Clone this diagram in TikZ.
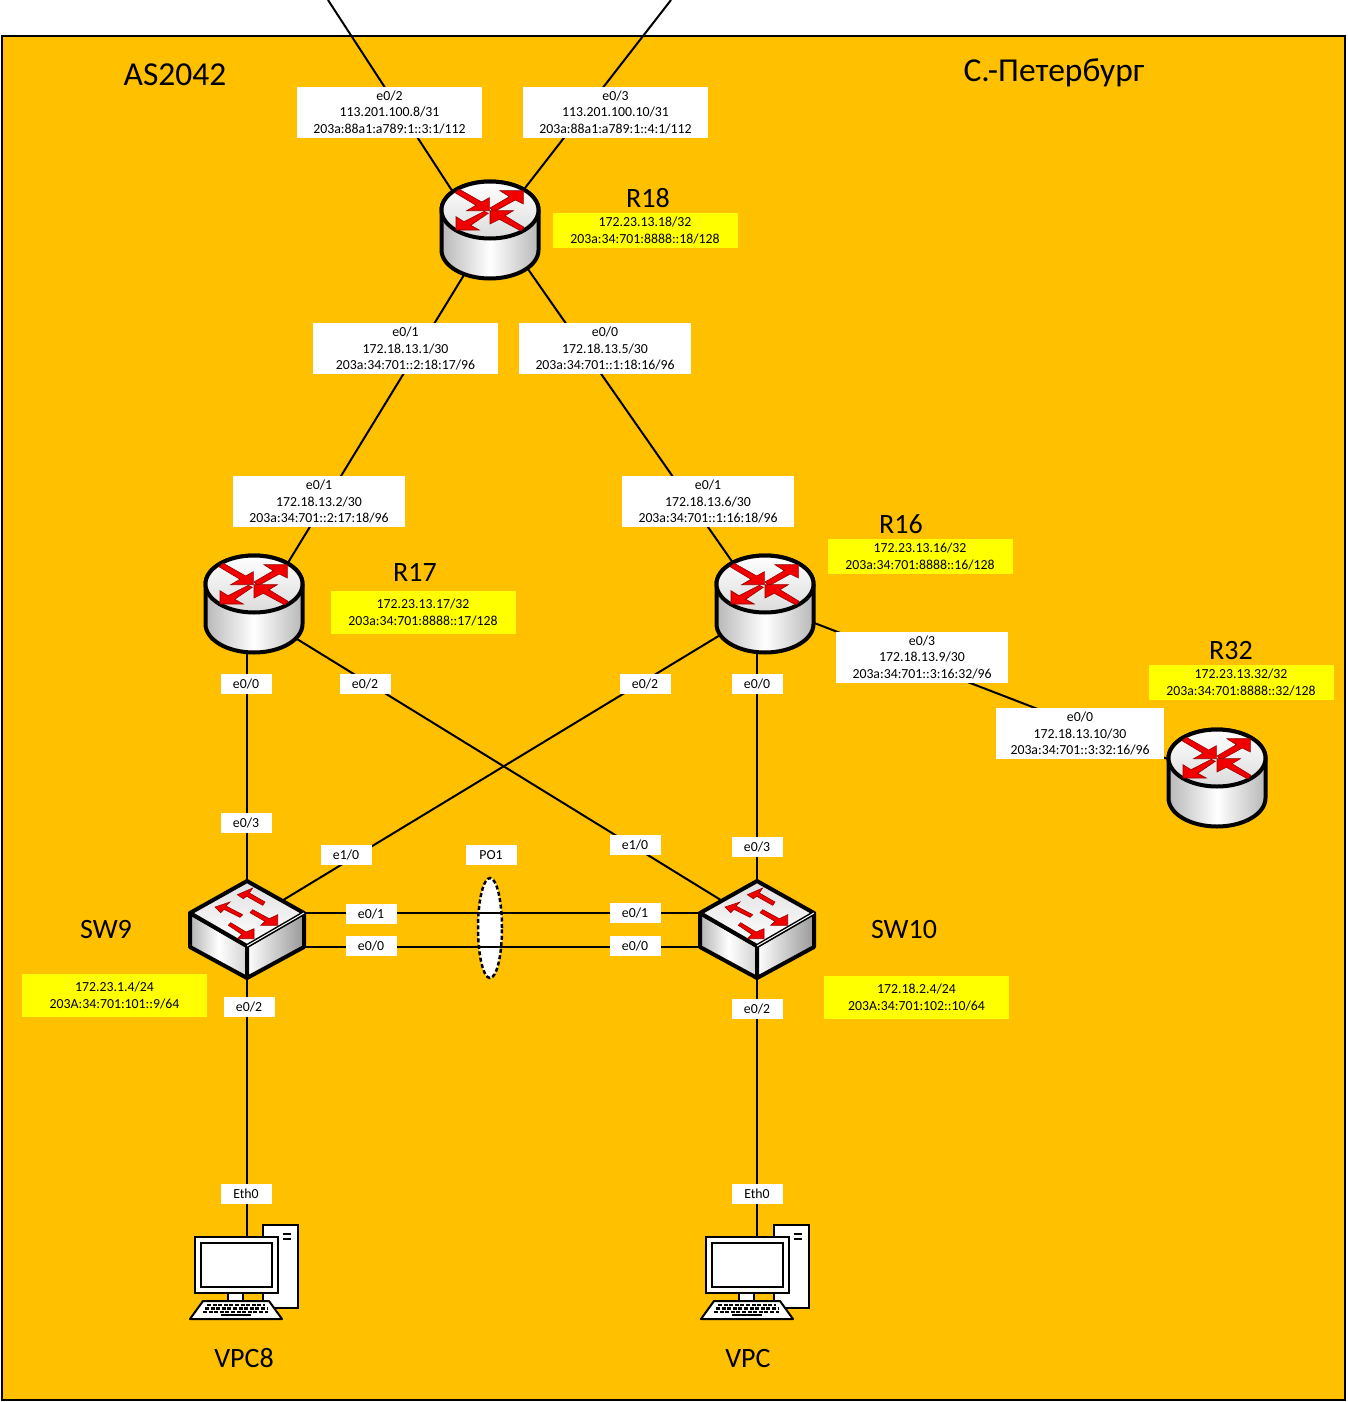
\documentclass[tikz,border=0pt]{standalone}
\usepackage{fontspec}
\setmainfont{Carlito}
\usetikzlibrary{shapes.geometric}

\definecolor{areaorange}{HTML}{FFC000}
\definecolor{flowred}{HTML}{F00000}
\definecolor{loopyellow}{HTML}{FFFF00}

\tikzset{
    conn/.style={line width=2pt, black},
    routerspot/.style={circle, minimum size=100pt, inner sep=0pt, outer sep=0pt},
    switchspot/.style={circle, minimum size=90pt, inner sep=0pt, outer sep=0pt},
    pcspot/.style={minimum width=108pt, minimum height=94pt, inner sep=0pt, outer sep=0pt},
    addrbox/.style={fill=white, align=center, inner sep=0pt, minimum height=51pt,
        font=\fontsize{13.8}{16.5}\selectfont},
    portbox/.style={fill=white, inner sep=0pt, minimum width=51pt, minimum height=20pt,
        font=\fontsize{13.8}{14}\selectfont},
    loopbox/.style={fill=loopyellow, align=center, inner sep=0pt, minimum width=185pt,
        font=\fontsize{13.8}{16.5}\selectfont},
    title/.style={inner sep=0pt, font=\fontsize{28}{32}\selectfont},
    flowarrow/.style={fill=flowred, draw=black!40!red, line width=0.6pt, line join=miter},
    routericon/.pic={
        \draw[line width=4pt, left color=black!28, right color=black!28, middle color=white]
            (-48.5,-20) -- (-48.5,20) arc[start angle=180, end angle=360, x radius=48.5pt, y radius=28.5pt]
            -- (48.5,-20) arc[start angle=0, end angle=180, x radius=48.5pt, y radius=28.5pt] -- cycle;
        \draw[line width=4pt, top color=white, bottom color=black!14]
            (0,-20) ellipse [x radius=48.5pt, y radius=28.5pt];
        \draw[flowarrow] (-30.7,-40.7) -- (-8.3,-28) -- (-0.7,-32.3) -- (-0.7,-19.3) -- (-23.3,-19.3) -- (-14,-24.7) -- (-35,-37.3) -- cycle;
        \draw[flowarrow] (0,-22) -- (19.3,-33.3) -- (10,-39.3) -- (33.3,-39.3) -- (33.3,-26) -- (25.3,-30) -- (4,-18.3) -- cycle;
        \draw[flowarrow] (-5.7,-18.7) -- (-26,-8.3) -- (-34,-13.3) -- (-34,0) -- (-10.7,0) -- (-19.3,-4.7) -- (-1.7,-16.7) -- cycle;
        \draw[flowarrow] (0,-19.3) -- (23.3,-19.3) -- (15,-14.3) -- (34,-2.7) -- (31,1) -- (9.3,-10.7) -- (0,-6) -- cycle;
    },
    switchicon/.pic={
        \draw[line width=4pt, line join=round, left color=black!30, right color=black!18, middle color=white]
            (-57,-17) -- (0,16) -- (0,48) -- (-57,17) -- cycle;
        \draw[line width=4pt, line join=round, left color=white, right color=black!40]
            (57,-17) -- (0,16) -- (0,48) -- (57,17) -- cycle;
        \draw[line width=4pt, line join=round, top color=black!12, bottom color=white]
            (0,-49) -- (-57,-17) -- (0,16) -- (57,-17) -- cycle;
        \draw[line width=1pt] (-57,-17) -- (0,16) -- (0,48);
        \draw[line width=1pt, white] (0,16) -- (57,-17);
        \draw[flowarrow] (-9.7,-35.3) -- (5.7,-42) -- (2.3,-37) -- (18,-28) -- (15.7,-24.7) -- (-0.3,-33.7) -- (-3.7,-31.3) -- cycle;
        \draw[flowarrow] (-32,-23) -- (-17,-28) -- (-21,-24) -- (-4.3,-15.3) -- (-7,-12.7) -- (-23,-20.7) -- (-26.3,-17.3) -- cycle;
        \draw[flowarrow] (5.7,-20.3) -- (22.3,-11.3) -- (30.7,-15.3) -- (30.7,-4.7) -- (13.7,-4.7) -- (18,-8.7) -- (3,-17.3) -- cycle;
        \draw[flowarrow] (-16.3,-7.3) -- (-1,2) -- (7,-1.3) -- (7,8.7) -- (-9.7,8.7) -- (-5.3,4.3) -- (-18.7,-4.7) -- cycle;
    },
    pcicon/.pic={
        \draw[line width=2pt, fill=white] (18,-47) rectangle (53,36);
        \fill (38,-39.5) rectangle (46,-37);
        \fill (38,-34.5) rectangle (46,-32);
        \draw[line width=2pt, fill=white] (-17,21) rectangle (-2,29);
        \draw[line width=2pt, fill=white] (-50,-35) rectangle (33,21);
        \draw[line width=2.5pt, fill=white] (-44,-29) rectangle (27,15);
        \draw[line width=2pt, fill=white, line join=round] (-42,29) -- (24,29) -- (37,47) -- (-55,47) -- cycle;
        \draw[line width=2.2pt, dash pattern=on 4pt off 1.6pt] (-38,33) -- (20,33);
        \draw[line width=2.2pt, dash pattern=on 4pt off 1.6pt] (-40,36.5) -- (22,36.5);
        \draw[line width=2.2pt, dash pattern=on 4pt off 1.6pt] (-42,40) -- (23,40);
        \fill (-24,41.5) rectangle (6,44);
    }
}

\begin{document}
\begin{tikzpicture}[x=1pt, y=-1pt]
    \useasboundingbox (0,0) rectangle (1347,1402);

    % Area behind everything
    \draw[line width=2.5pt, fill=areaorange] (2,36) rectangle (1345,1400);

    % Device places
    \node[routerspot] (R18) at (490,230) {};
    \node[routerspot] (R17) at (254,604) {};
    \node[routerspot] (R16) at (765,604) {};
    \node[routerspot] (R32) at (1217,778) {};
    \node[switchspot] (SW9) at (247,930) {};
    \node[switchspot] (SW10) at (757,930) {};
    \node[pcspot] (VPC8) at (245,1272) {};
    \node[pcspot] (VPC) at (756,1272) {};
    \coordinate (upL) at (328,0);
    \coordinate (upR) at (671,0);

    % Port channel ring
    \draw[line width=2.5pt, dash pattern=on 4pt off 2.5pt, fill=white] (490,928) ellipse [x radius=12pt, y radius=50pt];

    % Links
    \draw[conn] (upL) -- (R18.135);
    \draw[conn] (upR) -- (R18.50);
    \draw[conn] (R18.240) -- (R17.50);
    \draw[conn] (R18.-45) -- (R16.128);
    \draw[conn] (R16) -- (R32);
    \draw[conn] (R17 -| SW9) -- (SW9);
    \draw[conn] (R16 -| SW10) -- (SW10);
    \draw[conn] (R17.-40) -- (SW10.140);
    \draw[conn] (R16.215) -- (SW9.40);
    \draw[conn] ([yshift=17pt]SW9.center) -- ([yshift=17pt]SW10.center);
    \draw[conn] ([yshift=-17pt]SW9.center) -- ([yshift=-17pt]SW10.center);
    \draw[conn] (SW9) -- (SW9 |- VPC8);
    \draw[conn] (SW10) -- (SW10 |- VPC);

    % Devices
    \pic at (R18) {routericon};
    \pic at (R17) {routericon};
    \pic at (R16) {routericon};
    \pic at (R32) {routericon};
    \pic at (SW9) {switchicon};
    \pic at (SW10) {switchicon};
    \pic at (VPC8) {pcicon};
    \pic at (VPC) {pcicon};

    % Titles
    \node[title, font=\fontsize{33.5}{36}\selectfont] (asname) at (175,75) {AS2042};
    \node[title, font=\fontsize{33.5}{36}\selectfont] (city) at (1054,73) {С.-Петербург};
    \node[title] (nameR18) at (648,198) {R18};
    \node[title] (nameR17) at (415,572) {R17};
    \node[title] (nameR16) at (901,524.5) {R16};
    \node[title] (nameR32) at (1231,650.5) {R32};
    \node[title] (nameSW9) at (106,929) {SW9};
    \node[title] (nameSW10) at (904,929) {SW10};
    \node[title] (nameVPC8) at (244,1358) {VPC8};
    \node[title] (nameVPC) at (748,1358) {VPC};

    % Addresses on links
    \node[addrbox, minimum width=185pt] (a1) at (389.5,112.5) {e0/2\\113.201.100.8/31\\203a:88a1:a789:1::3:1/112};
    \node[addrbox, minimum width=185pt] (a2) at (615.5,112.5) {e0/3\\113.201.100.10/31\\203a:88a1:a789:1::4:1/112};
    \node[addrbox, minimum width=185pt] (a3) at (405.5,348.5) {e0/1\\172.18.13.1/30\\203a:34:701::2:18:17/96};
    \node[addrbox, minimum width=172pt] (a4) at (605,348.5) {e0/0\\172.18.13.5/30\\203a:34:701::1:18:16/96};
    \node[addrbox, minimum width=172pt] (a5) at (319,501.5) {e0/1\\172.18.13.2/30\\203a:34:701::2:17:18/96};
    \node[addrbox, minimum width=172pt] (a6) at (708,501.5) {e0/1\\172.18.13.6/30\\203a:34:701::1:16:18/96};
    \node[addrbox, minimum width=172pt] (a7) at (922,657) {e0/3\\172.18.13.9/30\\203a:34:701::3:16:32/96};
    \node[addrbox, minimum width=168pt] (a8) at (1080,733.5) {e0/0\\172.18.13.10/30\\203a:34:701::3:32:16/96};

    % Ports
    \node[portbox] (p1) at (246,684) {e0/0};
    \node[portbox] (p2) at (365,684) {e0/2};
    \node[portbox] (p3) at (645,684) {e0/2};
    \node[portbox] (p4) at (757,684) {e0/0};
    \node[portbox] (p5) at (246,823) {e0/3};
    \node[portbox] (p6) at (346,855) {e1/0};
    \node[portbox] (po) at (491,855) {PO1};
    \node[portbox] (p7) at (635,845) {e1/0};
    \node[portbox] (p8) at (757,847) {e0/3};
    \node[portbox] (p9) at (371,914) {e0/1};
    \node[portbox] (p10) at (371,946) {e0/0};
    \node[portbox] (p11) at (635,913) {e0/1};
    \node[portbox] (p12) at (635,946) {e0/0};
    \node[portbox] (p13) at (249,1007) {e0/2};
    \node[portbox] (p14) at (757,1009) {e0/2};
    \node[portbox] (p15) at (246,1194) {Eth0};
    \node[portbox] (p16) at (757,1194) {Eth0};

    % Loopbacks
    \node[loopbox, minimum height=35pt] (lo18) at (645,230.5) {172.23.13.18/32\\203a:34:701:8888::18/128};
    \node[loopbox, minimum height=43pt] (lo17) at (423,612.5) {172.23.13.17/32\\203a:34:701:8888::17/128};
    \node[loopbox, minimum height=35pt] (lo16) at (920,556.5) {172.23.13.16/32\\203a:34:701:8888::16/128};
    \node[loopbox, minimum height=35pt] (lo32) at (1241,682.5) {172.23.13.32/32\\203a:34:701:8888::32/128};
    \node[loopbox, minimum height=43pt] (lo9) at (114.5,995.5) {172.23.1.4/24\\203A:34:701:101::9/64};
    \node[loopbox, minimum height=43pt] (lo10) at (916.5,997.5) {172.18.2.4/24\\203A:34:701:102::10/64};
\end{tikzpicture}
\end{document}
